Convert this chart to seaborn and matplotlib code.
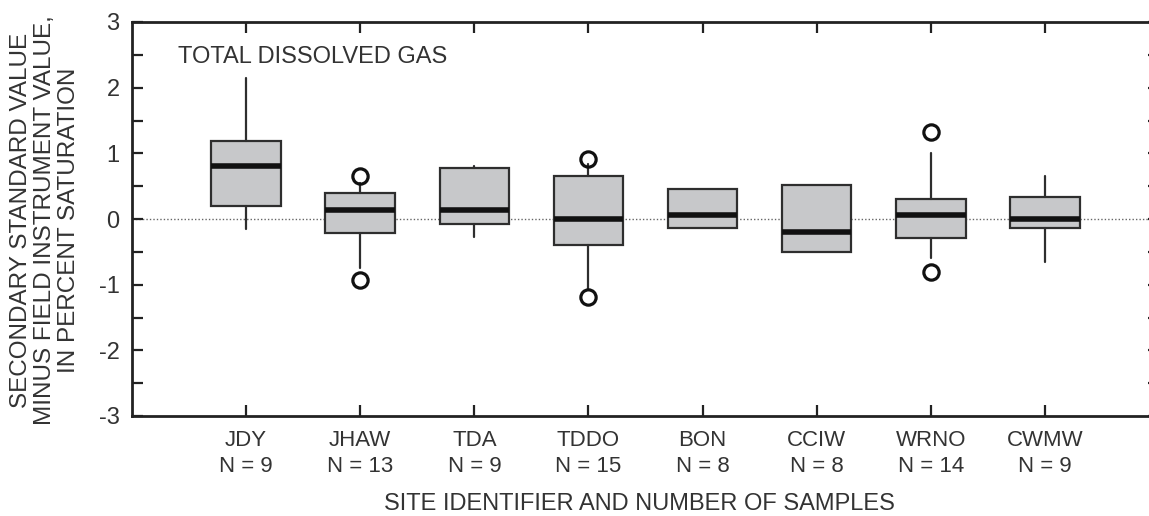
import matplotlib
matplotlib.use("Agg")
import matplotlib.pyplot as plt
from matplotlib.ticker import MultipleLocator
import seaborn as sns

# Summary statistics per site (percent saturation difference)
sites = ["JDY", "JHAW", "TDA", "TDDO", "BON", "CCIW", "WRNO", "CWMW"]
n_samples = [9, 13, 9, 15, 8, 8, 14, 9]
whisker_low = [-0.15, -0.75, -0.27, -1.07, -0.14, -0.50, -0.60, -0.66]
q1 = [0.20, -0.21, -0.07, -0.40, -0.14, -0.50, -0.29, -0.14]
median = [0.80, 0.13, 0.13, 0.00, 0.06, -0.20, 0.06, 0.00]
q3 = [1.19, 0.39, 0.78, 0.65, 0.46, 0.52, 0.30, 0.33]
whisker_high = [2.14, 0.55, 0.80, 0.83, 0.46, 0.52, 1.00, 0.66]
outliers = [[], [0.66, -0.93], [], [0.92, -1.19], [], [], [1.32, -0.80], []]

sns.set_style("ticks")
plt.rcParams["font.family"] = ["Liberation Sans", "DejaVu Sans"]
plt.rcParams["axes.unicode_minus"] = False

fig = plt.figure(figsize=(11.49, 5.16), dpi=100)
ax = fig.add_axes([132 / 1149, 1 - 416 / 516, (1159 - 132) / 1149, (416 - 22) / 516])

stats = []
for i, s in enumerate(sites):
    stats.append(dict(
        label=f"{s}\nN = {n_samples[i]}",
        whislo=whisker_low[i], q1=q1[i], med=median[i], q3=q3[i],
        whishi=whisker_high[i], fliers=outliers[i],
    ))

edge = "#2e2e2e"
ax.axhline(0, color="#666666", lw=1.0, ls=(0, (1, 1.5)), zorder=0)
ax.bxp(
    stats, positions=range(len(sites)), widths=0.61, patch_artist=True,
    showcaps=False,
    boxprops=dict(facecolor="#c7c8ca", edgecolor=edge, linewidth=1.6),
    medianprops=dict(color="#111111", linewidth=4.0, solid_capstyle="butt"),
    whiskerprops=dict(color=edge, linewidth=1.6),
    flierprops=dict(marker="o", markerfacecolor="none", markeredgecolor="#111111",
                    markersize=11, markeredgewidth=2.3),
    zorder=2,
)

ax.set_xlim(-1, 8)
ax.set_ylim(-3, 3)
ax.yaxis.set_major_locator(MultipleLocator(1))
ax.yaxis.set_minor_locator(MultipleLocator(0.5))
ax.set_xticks(range(len(sites)))
ax.set_xticklabels([st["label"] for st in stats], fontsize=16, linespacing=1.3)
ax.tick_params(axis="x", which="both", direction="in", top=True, bottom=True,
               length=8, width=1.6, pad=10, colors="#222222")
ax.tick_params(axis="y", which="both", direction="in", left=True, right=True,
               length=8, width=1.6, pad=9, labelsize=17, colors="#222222")
ax.tick_params(axis="x", labelcolor="#333333")
ax.tick_params(axis="y", labelcolor="#333333")
for sp in ax.spines.values():
    sp.set_linewidth(2.0)
    sp.set_color("#222222")

ax.text(-0.60, 2.47, "TOTAL DISSOLVED GAS", fontsize=17, color="#333333",
        ha="left", va="center")

fig.text(45 / 1149, 1 - 220 / 516,
         "SECONDARY STANDARD VALUE\nMINUS FIELD INSTRUMENT VALUE,\nIN PERCENT SATURATION",
         rotation=90, ha="center", va="center", multialignment="center",
         fontsize=17.5, linespacing=1.12, color="#333333")
fig.text(639 / 1149, 1 - 504 / 516, "SITE IDENTIFIER AND NUMBER OF SAMPLES",
         ha="center", va="center", fontsize=17, color="#333333")

fig.savefig("out.png", dpi=100)
